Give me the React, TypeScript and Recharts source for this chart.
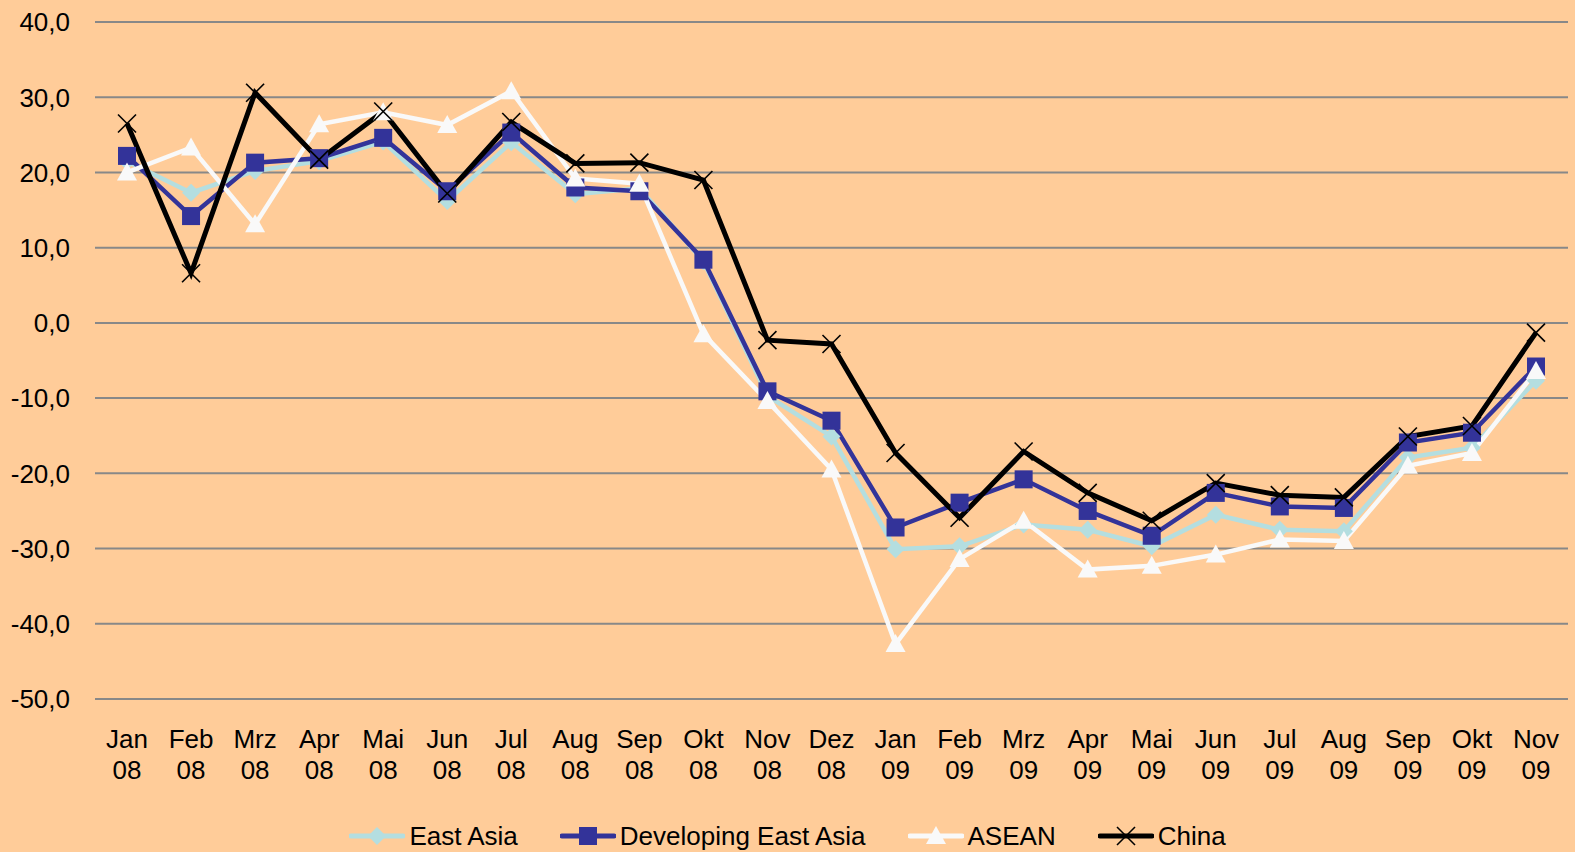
import React from 'react';
import { LineChart, Line, XAxis, YAxis, CartesianGrid, Legend } from 'recharts';

const months = ['Jan', 'Feb', 'Mrz', 'Apr', 'Mai', 'Jun', 'Jul', 'Aug', 'Sep', 'Okt', 'Nov', 'Dez', 'Jan', 'Feb', 'Mrz', 'Apr', 'Mai', 'Jun', 'Jul', 'Aug', 'Sep', 'Okt', 'Nov'];
const years = ['08', '08', '08', '08', '08', '08', '08', '08', '08', '08', '08', '08', '09', '09', '09', '09', '09', '09', '09', '09', '09', '09', '09'];

const eastAsia = [21.5, 17.3, 20.2, 21.5, 24.1, 16.2, 24.0, 17.1, 17.9, 8.2, -9.7, -15.1, -30.1, -29.7, -26.8, -27.5, -29.7, -25.5, -27.5, -27.7, -17.9, -16.6, -7.7];
const developingEastAsia = [22.2, 14.2, 21.3, 21.9, 24.6, 17.5, 25.3, 18.0, 17.5, 8.4, -9.1, -13.0, -27.2, -23.9, -20.8, -25.0, -28.3, -22.6, -24.4, -24.6, -15.9, -14.6, -5.8];
const asean = [20.0, 23.3, 13.1, 26.4, 28.0, 26.3, 30.8, 19.2, 18.5, -1.5, -10.4, -19.5, -42.7, -31.4, -26.3, -32.8, -32.3, -30.8, -28.8, -29.0, -19.0, -17.3, -6.4];
const china = [26.5, 6.6, 30.6, 21.7, 28.1, 17.2, 26.7, 21.2, 21.3, 19.0, -2.3, -2.8, -17.3, -25.9, -17.1, -22.6, -26.3, -21.3, -22.9, -23.2, -15.1, -13.7, -1.3];

const yTicks = [-50, -40, -30, -20, -10, 0, 10, 20, 30, 40];

const data = months.map((m, i) => ({
  cat: m + ' ' + years[i],
  month: m,
  year: years[i],
  eastAsia: eastAsia[i],
  developing: developingEastAsia[i],
  asean: asean[i],
  china: china[i],
}));

const FONT = '"Liberation Sans", Arial, sans-serif';
const FS = 26;
const BG = '#FFCC99';
const C_EA = '#B4DEE0';
const C_DEV = '#333399';
const C_AS = '#F9F9F9';
const C_CN = '#000000';

const Diamond = ({ cx, cy, color }: any) => (
  <polygon points={`${cx},${cy - 9} ${cx + 9},${cy} ${cx},${cy + 9} ${cx - 9},${cy}`} fill={color} />
);
const Square = ({ cx, cy, color }: any) => (
  <rect x={cx - 9} y={cy - 9} width={18} height={18} fill={color} />
);
const Triangle = ({ cx, cy, color }: any) => (
  <polygon points={`${cx},${cy - 10} ${cx + 10},${cy + 8} ${cx - 10},${cy + 8}`} fill={color} />
);
const Cross = ({ cx, cy, color }: any) => (
  <g stroke={color} strokeWidth={1.6}>
    <line x1={cx - 9} y1={cy - 9} x2={cx + 9} y2={cy + 9} />
    <line x1={cx - 9} y1={cy + 9} x2={cx + 9} y2={cy - 9} />
  </g>
);

const mkDot = (Shape: any, color: string) => (p: any) => {
  if (p.cx == null || p.cy == null) return <g key={p.index} />;
  return <Shape key={p.index} cx={p.cx} cy={p.cy} color={color} />;
};

const XTick = ({ x, y, payload }: any) => {
  const idx = payload.index;
  return (
    <text x={x} y={y} textAnchor="middle" fontFamily={FONT} fontSize={FS} fill="#000">
      <tspan x={x} dy={49}>{months[idx]}</tspan>
      <tspan x={x} dy={31}>{years[idx]}</tspan>
    </text>
  );
};

const YTick = ({ x, y, payload }: any) => (
  <text x={x - 25} y={y} dy="0.36em" textAnchor="end" fontFamily={FONT} fontSize={FS} fill="#000">
    {payload.value.toFixed(1).replace('.', ',')}
  </text>
);

const legendItems = [
  { name: 'East Asia', color: C_EA, Shape: Diamond },
  { name: 'Developing East Asia', color: C_DEV, Shape: Square },
  { name: 'ASEAN', color: C_AS, Shape: Triangle },
  { name: 'China', color: C_CN, Shape: Cross },
];

const LegendContent = () => (
  <div style={{ display: 'flex', justifyContent: 'center', alignItems: 'center', height: 26, fontFamily: FONT, fontSize: FS, color: '#000' }}>
    {legendItems.map((it, i) => (
      <div key={it.name} style={{ display: 'flex', alignItems: 'center', marginLeft: i === 0 ? 0 : 42 }}>
        <svg width={56} height={24} style={{ display: 'block' }}>
          <line x1={2} y1={12} x2={54} y2={12} stroke={it.color} strokeWidth={5} strokeLinecap="round" />
          <it.Shape cx={28} cy={12} color={it.color} />
        </svg>
        <span style={{ marginLeft: 4, lineHeight: '26px' }}>{it.name}</span>
      </div>
    ))}
  </div>
);

export default function App() {
  return (
    <div style={{ width: 1575, height: 852, background: BG, position: 'relative' }}>
      <style>{'body{margin:0;}'}</style>
      <LineChart
        width={1575}
        height={852}
        data={data}
        margin={{ top: 22, right: 7, bottom: 0, left: 0 }}
      >
        <CartesianGrid horizontal vertical={false} stroke="#888888" strokeWidth={2} />
        <XAxis
          dataKey="cat"
          axisLine={false}
          tickLine={false}
          tickSize={0}
          tickMargin={0}
          height={127}
          interval={0}
          padding={{ left: 32, right: 32 }}
          tick={<XTick />}
        />
        <YAxis
          domain={[-50, 40]}
          ticks={yTicks}
          axisLine={false}
          tickLine={false}
          tickSize={0}
          tickMargin={0}
          width={95}
          tick={<YTick />}
        />
        <Legend
          verticalAlign="bottom"
          height={26}
          content={<LegendContent />}
          wrapperStyle={{ position: 'absolute', left: 0, width: 1575, top: 823 }}
        />
        <Line dataKey="eastAsia" name="East Asia" stroke={C_EA} strokeWidth={4.5} dot={mkDot(Diamond, C_EA)} activeDot={false} isAnimationActive={false} />
        <Line dataKey="developing" name="Developing East Asia" stroke={C_DEV} strokeWidth={4.5} dot={mkDot(Square, C_DEV)} activeDot={false} isAnimationActive={false} />
        <Line dataKey="asean" name="ASEAN" stroke={C_AS} strokeWidth={4.5} dot={mkDot(Triangle, C_AS)} activeDot={false} isAnimationActive={false} />
        <Line dataKey="china" name="China" stroke={C_CN} strokeWidth={5} dot={mkDot(Cross, C_CN)} activeDot={false} isAnimationActive={false} />
      </LineChart>
    </div>
  );
}
